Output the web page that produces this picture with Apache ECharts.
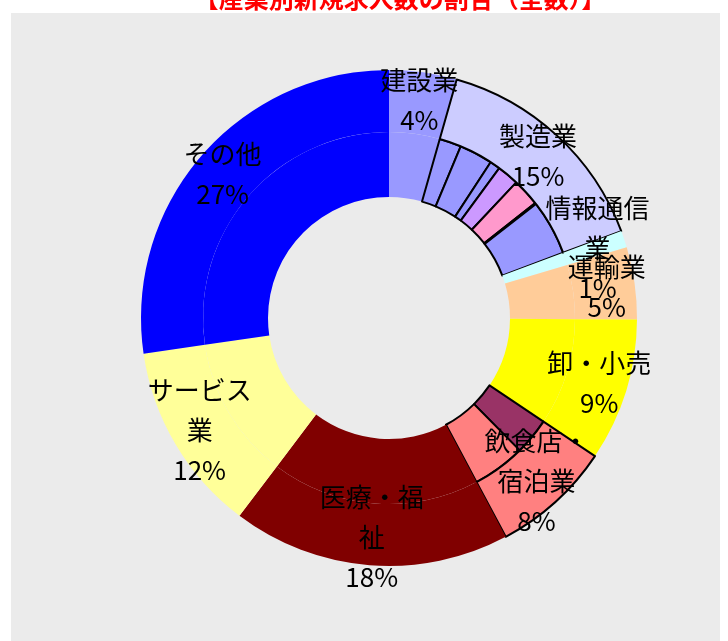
<!DOCTYPE html>
<html>
<head>
<meta charset="utf-8">
<script src="https://cdn.jsdelivr.net/npm/echarts@6/dist/echarts.min.js"></script>
<style>
  html, body { margin: 0; padding: 0; background: #fff; }
  #chart { width: 728px; height: 641px; }
</style>
</head>
<body>
<div id="chart"></div>
<script>
// 産業分類（外側の輪）
const categories = ["建設業", "製造業", "情報通信業", "運輸業", "卸・小売", "飲食店・宿泊業", "医療・福祉", "サービス業", "その他"];
const shares = [4.4, 14.9, 1.1, 4.7, 9.3, 7.8, 18.1, 12.4, 27.3];
const labelNames = ["建設業", "製造業", "情報通信\n業", "運輸業", "卸・小売", "飲食店・\n宿泊業", "医療・福\n祉", "サービス\n業", "その他"];
const colors = ["#9999ff", "#ccccff", "#ccffff", "#ffcc99", "#ffff00", "#ff8080", "#800000", "#ffff99", "#0000ff"];

// 内側の輪（製造業・飲食店を細分）
const mfgSub = [1.9, 2.9, 0.9, 1.9, 2.4, 0.1, 4.8];
const mfgSubColors = ["#9999ff", "#9999ff", "#9999ff", "#cc99ff", "#ff99cc", "#000000", "#9999ff"];
const foodSub = [3.2, 4.6];
const foodSubColors = ["#993366", "#ff8080"];

const bordered = ["製造業", "飲食店・宿泊業"];

const outerData = categories.map((name, i) => {
  const item = { name: name, value: shares[i], itemStyle: { color: colors[i] } };
  if (bordered.indexOf(name) >= 0) {
    item.itemStyle.borderColor = "#000";
    item.itemStyle.borderWidth = 2;
  }
  return item;
});

const innerData = [];
categories.forEach((name, i) => {
  if (name === "製造業") {
    mfgSub.forEach((v, j) => {
      innerData.push({ name: name + j, value: v, itemStyle: { color: mfgSubColors[j], borderColor: "#000", borderWidth: 2 } });
    });
  } else if (name === "飲食店・宿泊業") {
    foodSub.forEach((v, j) => {
      innerData.push({ name: name + j, value: v, itemStyle: { color: foodSubColors[j], borderColor: "#000", borderWidth: 2 } });
    });
  } else {
    innerData.push({ name: name, value: shares[i], itemStyle: { color: colors[i] } });
  }
});

const chart = echarts.init(document.getElementById("chart"));
const option = {
  animation: false,
  graphic: [
    {
      type: "rect",
      z: -10,
      shape: { x: 11, y: 13, width: 709, height: 640 },
      style: { fill: "#ebebeb" }
    },
    {
      // タイトル（上端が切れている）
      type: "text",
      x: 400,
      y: 11,
      style: {
        text: "【産業別新規求人数の割合（全数）】",
        fill: "#ff0000",
        font: "bold 25px 'Noto Sans CJK JP'",
        textAlign: "center",
        textVerticalAlign: "bottom"
      }
    }
  ],
  series: [
    {
      type: "pie",
      center: [389, 318],
      radius: [121, 186],
      startAngle: 90,
      clockwise: true,
      silent: true,
      label: { show: false },
      labelLine: { show: false },
      data: innerData
    },
    {
      type: "pie",
      center: [389, 318],
      radius: [186, 248],
      startAngle: 90,
      clockwise: true,
      silent: true,
      avoidLabelOverlap: false,
      labelLayout: { hideOverlap: false },
      labelLine: { show: false },
      label: {
        show: true,
        position: "inside",
        color: "#000",
        fontSize: 26,
        lineHeight: 40,
        fontFamily: "Noto Sans CJK JP",
        formatter: (p) => labelNames[p.dataIndex] + "\n" + Math.round(p.value) + "%"
      },
      data: outerData
    }
  ]
};
chart.setOption(option);
</script>
</body>
</html>
